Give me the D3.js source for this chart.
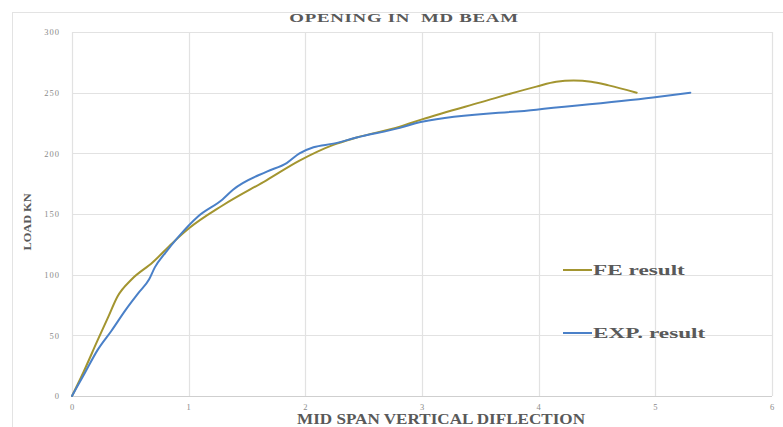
<!DOCTYPE html>
<html>
<head>
<meta charset="utf-8">
<script src="https://cdn.jsdelivr.net/npm/d3@7"></script>
<style>
  html, body { margin: 0; padding: 0; background: #fff; }
  svg { display: block; }
</style>
</head>
<body>
<svg id="chart" width="783" height="427"></svg>
<script>
// Load–deflection curves for the beam with a mid-span opening
const feDeflection  = [0, 0.10, 0.22, 0.31, 0.39, 0.51, 0.69, 0.86, 1.00, 1.29, 1.67, 1.95, 2.24, 2.44, 2.81, 3.00, 3.50, 3.98, 4.15, 4.30, 4.45, 4.60, 4.84];
const feLoad        = [0, 20, 46, 65, 82, 96, 110, 126, 138, 157, 178, 194, 207, 213, 222, 228, 242, 255, 259, 260, 259, 256, 250];

const expDeflection = [0, 0.11, 0.22, 0.34, 0.46, 0.57, 0.66, 0.71, 0.80, 0.91, 1.08, 1.29, 1.38, 1.67, 1.84, 1.95, 2.07, 2.24, 2.44, 2.81, 3.00, 3.98, 4.98, 5.30];
const expLoad       = [0, 19, 38, 54, 71, 85, 96, 106, 118, 131, 148, 162, 170, 185, 192, 200, 205, 208, 213, 221, 226, 236, 246, 250];

const xTicks = [0, 1, 2, 3, 4, 5, 6];
const yTicks = [0, 50, 100, 150, 200, 250, 300];

const seriesNames = ["FE result", "EXP. result"];
const seriesColors = ["#a39530", "#4a80c8"];

const svg = d3.select("#chart");
const W = 783, H = 427;
const m = { left: 72, right: 11, top: 32, bottom: 31 };

const x = d3.scaleLinear().domain([0, 6]).range([m.left, W - m.right]);
const y = d3.scaleLinear().domain([0, 300]).range([H - m.bottom, m.top]);

const serif = "'Liberation Serif', 'Times New Roman', serif";

// chart frame
svg.append("rect")
  .attr("x", 12.5).attr("y", 12.5)
  .attr("width", 800).attr("height", 430)
  .attr("fill", "none").attr("stroke", "#e3e3e3");

// gridlines
const grid = svg.append("g");
grid.selectAll("line.h").data(yTicks).join("line")
  .attr("x1", x(0)).attr("x2", x(6))
  .attr("y1", d => Math.round(y(d)) + 0.5).attr("y2", d => Math.round(y(d)) + 0.5)
  .attr("stroke", d => d === 0 ? "#cfcfcf" : "#e2e2e2").attr("stroke-width", 1.2);
grid.selectAll("line.v").data(xTicks).join("line")
  .attr("y1", y(0)).attr("y2", y(300))
  .attr("x1", d => Math.round(x(d)) + 0.5).attr("x2", d => Math.round(x(d)) + 0.5)
  .attr("stroke", "#e2e2e2").attr("stroke-width", 1.2);

// axes (labels only; lines come from the grid)
const xAxis = svg.append("g")
  .attr("transform", `translate(0,${y(0)})`)
  .call(d3.axisBottom(x).tickValues(xTicks).tickFormat(d3.format("d")).tickSize(0).tickPadding(8));
const yAxis = svg.append("g")
  .attr("transform", `translate(${x(0)},0)`)
  .call(d3.axisLeft(y).tickValues(yTicks).tickFormat(d3.format("d")).tickSize(0).tickPadding(12));
[xAxis, yAxis].forEach(a => {
  a.select(".domain").remove();
  a.selectAll("text")
    .attr("fill", "#8a8a8a")
    .style("font-family", serif)
    .style("font-size", "8.5px")
    .style("letter-spacing", "1px");
});

// curves
const line = d3.line()
  .x(d => x(d[0])).y(d => y(d[1]))
  .curve(d3.curveMonotoneX);

const series = [
  d3.zip(feDeflection, feLoad),
  d3.zip(expDeflection, expLoad)
];
series.forEach((pts, i) => {
  svg.append("path")
    .datum(pts)
    .attr("d", line)
    .attr("fill", "none")
    .attr("stroke", seriesColors[i])
    .attr("stroke-width", 2)
    .attr("stroke-linejoin", "round")
    .attr("stroke-linecap", "round");
});

// text helper: bold serif, stretched horizontally
function label(cx, cy, str, size, sx, rotate) {
  const g = svg.append("g")
    .attr("transform", `translate(${cx},${cy})` + (rotate ? " rotate(-90)" : "") + ` scale(${sx},1)`);
  return g.append("text")
    .attr("text-anchor", "middle")
    .attr("fill", "#595959")
    .attr("xml:space", "preserve")
    .style("font-family", serif)
    .style("font-weight", "bold")
    .style("font-size", size + "px")
    .text(str);
}

// title and axis titles
label(404, 22, "OPENING IN  MD BEAM", 13, 1.45).style("letter-spacing", "0.5px");
label(441, 424, "MID SPAN VERTICAL DIFLECTION", 14.5, 1.18);
label(31, 222, "LOAD KN", 11, 1.12, true);

// legend
const legend = svg.append("g").attr("transform", "translate(563,270)");
seriesNames.forEach((name, i) => {
  const g = legend.append("g").attr("transform", `translate(0,${i * 63})`);
  g.append("line")
    .attr("x1", 0).attr("x2", 29).attr("y1", 0).attr("y2", 0)
    .attr("stroke", seriesColors[i]).attr("stroke-width", 2);
  g.append("g").attr("transform", "translate(30,5) scale(1.55,1)")
    .append("text")
    .attr("fill", "#595959")
    .style("font-family", serif)
    .style("font-weight", "bold")
    .style("font-size", "15px")
    .text(name);
});
</script>
</body>
</html>
